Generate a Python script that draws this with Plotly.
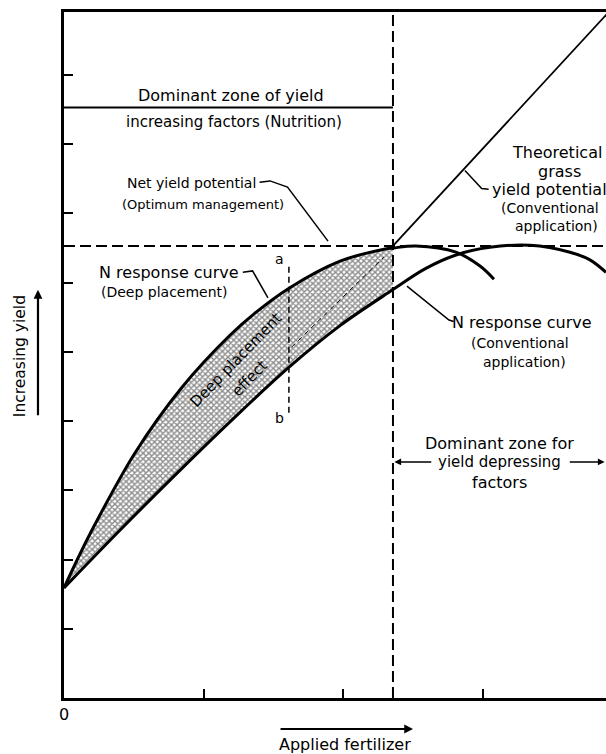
import plotly.graph_objects as go

# Applied fertilizer (x, in tick units) and yield (y, in tick units)
fert_deep = [0.0, 0.093, 0.186, 0.508, 0.845, 1.188, 1.367, 1.611, 1.976, 2.283, 2.355, 2.52, 2.806, 2.978, 3.078]
yield_deep = [1.59, 1.99, 2.37, 3.54, 4.49, 5.24, 5.56, 5.92, 6.31, 6.48, 6.50, 6.53, 6.44, 6.24, 6.05]

fert_conv = [0.0, 0.379, 0.795, 1.188, 1.611, 1.976, 2.355, 2.584, 2.806, 3.049, 3.336, 3.622, 3.765, 3.88]
yield_conv = [1.59, 2.38, 3.22, 3.99, 4.78, 5.38, 5.90, 6.20, 6.40, 6.51, 6.54, 6.44, 6.33, 6.15]

# Theoretical gross yield potential (straight line from the optimum point)
theory_fert = [2.355, 3.90]
theory_yield = [6.53, 9.91]

net_potential = 6.53      # net yield potential (optimum management)
zone_boundary = 2.355     # fertilizer rate separating the two dominant zones
nutrition_line = 8.53     # divider inside the yield-increasing zone
ab_fert = 1.61            # a-b section across the deep placement band
ab_range = [4.12, 6.28]

y_ticks = [1, 2, 3, 4, 5, 6, 7, 8, 9]
x_ticks = [0, 1, 2, 3]
x_ticktext = ["0", "", "", ""]

X_MAX = 3.88
Y_MAX = 9.91
FONT = "DejaVu Sans"
INK = "black"

fig = go.Figure()

# Shaded deep placement effect between the two curves (up to the zone boundary)
band_deep_x = [x for x in fert_deep if x <= zone_boundary]
band_deep_y = yield_deep[:len(band_deep_x)]
band_conv_x = [x for x in fert_conv if x <= zone_boundary]
band_conv_y = yield_conv[:len(band_conv_x)]

fig.add_trace(go.Scatter(
    x=band_conv_x, y=band_conv_y, mode="lines",
    line=dict(width=0, shape="spline", color=INK),
    hoverinfo="skip", showlegend=False))
fig.add_trace(go.Scatter(
    x=band_deep_x, y=band_deep_y, mode="lines",
    line=dict(width=0, shape="spline", color=INK),
    fill="tonexty", fillcolor="rgba(0,0,0,0)",
    fillpattern=dict(shape="x", size=4, solidity=0.6,
                     fgcolor="#1a1a1a", bgcolor="white"),
    hoverinfo="skip", showlegend=False))

# Response curves
fig.add_trace(go.Scatter(
    x=fert_deep, y=yield_deep, mode="lines", name="N response (deep placement)",
    line=dict(color=INK, width=3, shape="spline"), showlegend=False))
fig.add_trace(go.Scatter(
    x=fert_conv, y=yield_conv, mode="lines", name="N response (conventional)",
    line=dict(color=INK, width=3, shape="spline"), showlegend=False))
fig.add_trace(go.Scatter(
    x=theory_fert, y=theory_yield, mode="lines", name="Theoretical gross yield potential",
    line=dict(color=INK, width=1.8), showlegend=False))

dash = "11px,5px"
shapes = [
    # net yield potential level
    dict(type="line", xref="x", yref="y", x0=0, x1=X_MAX, y0=net_potential, y1=net_potential,
         line=dict(color=INK, width=2, dash=dash)),
    # zone boundary
    dict(type="line", xref="x", yref="y", x0=zone_boundary, x1=zone_boundary, y0=0, y1=Y_MAX,
         line=dict(color=INK, width=2, dash=dash)),
    # divider under "Dominant zone of yield"
    dict(type="line", xref="x", yref="y", x0=0, x1=zone_boundary, y0=nutrition_line, y1=nutrition_line,
         line=dict(color=INK, width=2)),
    # a-b section
    dict(type="line", xref="x", yref="y", x0=ab_fert, x1=ab_fert, y0=ab_range[0], y1=ab_range[1],
         line=dict(color=INK, width=1.5, dash="6px,4px")),
    # dashed indicator inside the band
    dict(type="line", xref="x", yref="y", x0=1.63, y0=5.07, x1=2.29, y1=6.37,
         line=dict(color=INK, width=1, dash="5px,4px")),
    # leader lines
    dict(type="path", xref="x", yref="y",
         path="M 1.40 7.45 L 1.475 7.47 L 1.60 7.38 L 1.89 6.60",
         line=dict(color=INK, width=1.5)),
    dict(type="path", xref="x", yref="y",
         path="M 2.87 7.62 L 2.99 7.36 L 3.04 7.35",
         line=dict(color=INK, width=1.5)),
    dict(type="path", xref="x", yref="y",
         path="M 1.28 6.15 L 1.35 6.17 L 1.46 5.78",
         line=dict(color=INK, width=1.5)),
    dict(type="path", xref="x", yref="y",
         path="M 2.455 5.95 L 2.756 5.46 L 2.79 5.44",
         line=dict(color=INK, width=1.5)),
]


def label(text, x, y, size=16, angle=0, ref="data"):
    xref, yref = ("paper", "paper") if ref == "paper" else ("x", "y")
    return dict(text=text, x=x, y=y, xref=xref, yref=yref,
                xanchor="center", yanchor="middle",
                showarrow=False, textangle=angle,
                font=dict(family=FONT, size=size, color=INK))


annotations = [
    label("Dominant zone of yield", 1.195, 8.71, 16),
    label("increasing factors (Nutrition)", 1.217, 8.32, 15),
    label("Net yield potential", 0.916, 7.44, 14),
    label("(Optimum management)", 0.995, 7.13, 13),
    label("Theoretical", 3.529, 7.88, 16),
    label("grass", 3.55, 7.60, 16),
    label("yield potential", 3.479, 7.34, 16),
    label("(Conventional", 3.479, 7.08, 14),
    label("application)", 3.529, 6.82, 14),
    label("N response curve", 0.75, 6.15, 16),
    label("(Deep placement)", 0.716, 5.86, 14),
    label("a", 1.546, 6.34, 14),
    label("b", 1.546, 4.04, 14),
    label("Deep placement", 1.231, 4.88, 15, angle=-46),
    label("effect", 1.331, 4.62, 15, angle=-46),
    label("N response curve", 3.278, 5.42, 16),
    label("(Conventional", 3.264, 5.13, 14),
    label("application)", 3.293, 4.85, 14),
    label("Dominant zone for", 3.121, 3.68, 16),
    label("yield depressing", 3.121, 3.41, 15),
    label("factors", 3.121, 3.12, 16),
    label("Increasing yield", -0.081, 0.4985, 15.5, angle=-90, ref="paper"),
    label("Applied fertilizer", 0.518, -0.0685, 16, ref="paper"),
]

# Arrows
arrow_style = dict(showarrow=True, arrowhead=2, arrowsize=0.9, arrowwidth=1.5, arrowcolor=INK, text="")
annotations += [
    dict(x=zone_boundary + 0.01, y=3.41, ax=2.64, ay=3.41, xref="x", yref="y",
         axref="x", ayref="y", **arrow_style),
    dict(x=3.87, y=3.41, ax=3.61, ay=3.41, xref="x", yref="y",
         axref="x", ayref="y", **arrow_style),
    dict(x=-0.048, y=0.595, ax=0, ay=127, xref="paper", yref="paper",
         showarrow=True, arrowhead=2, arrowsize=0.8, arrowwidth=2.2, arrowcolor=INK, text=""),
    dict(x=0.644, y=-0.0452, ax=-134, ay=0, xref="paper", yref="paper",
         showarrow=True, arrowhead=2, arrowsize=0.8, arrowwidth=2.2, arrowcolor=INK, text=""),
]

fig.update_layout(
    width=606, height=754,
    margin=dict(l=64, r=0, t=12, b=56),
    paper_bgcolor="white", plot_bgcolor="white",
    shapes=shapes, annotations=annotations,
    showlegend=False,
    xaxis=dict(range=[0, X_MAX], showgrid=False, zeroline=False,
               showline=True, linecolor=INK, linewidth=2.5, mirror=True,
               ticks="inside", ticklen=9, tickwidth=2, tickcolor=INK,
               tickvals=x_ticks, ticktext=x_ticktext,
               tickfont=dict(family=FONT, size=16, color=INK)),
    yaxis=dict(range=[0, Y_MAX], showgrid=False, zeroline=False,
               showline=True, linecolor=INK, linewidth=2.5,
               ticks="inside", ticklen=9, tickwidth=2, tickcolor=INK,
               tickvals=y_ticks, showticklabels=False),
)

fig.write_html("out.html")
